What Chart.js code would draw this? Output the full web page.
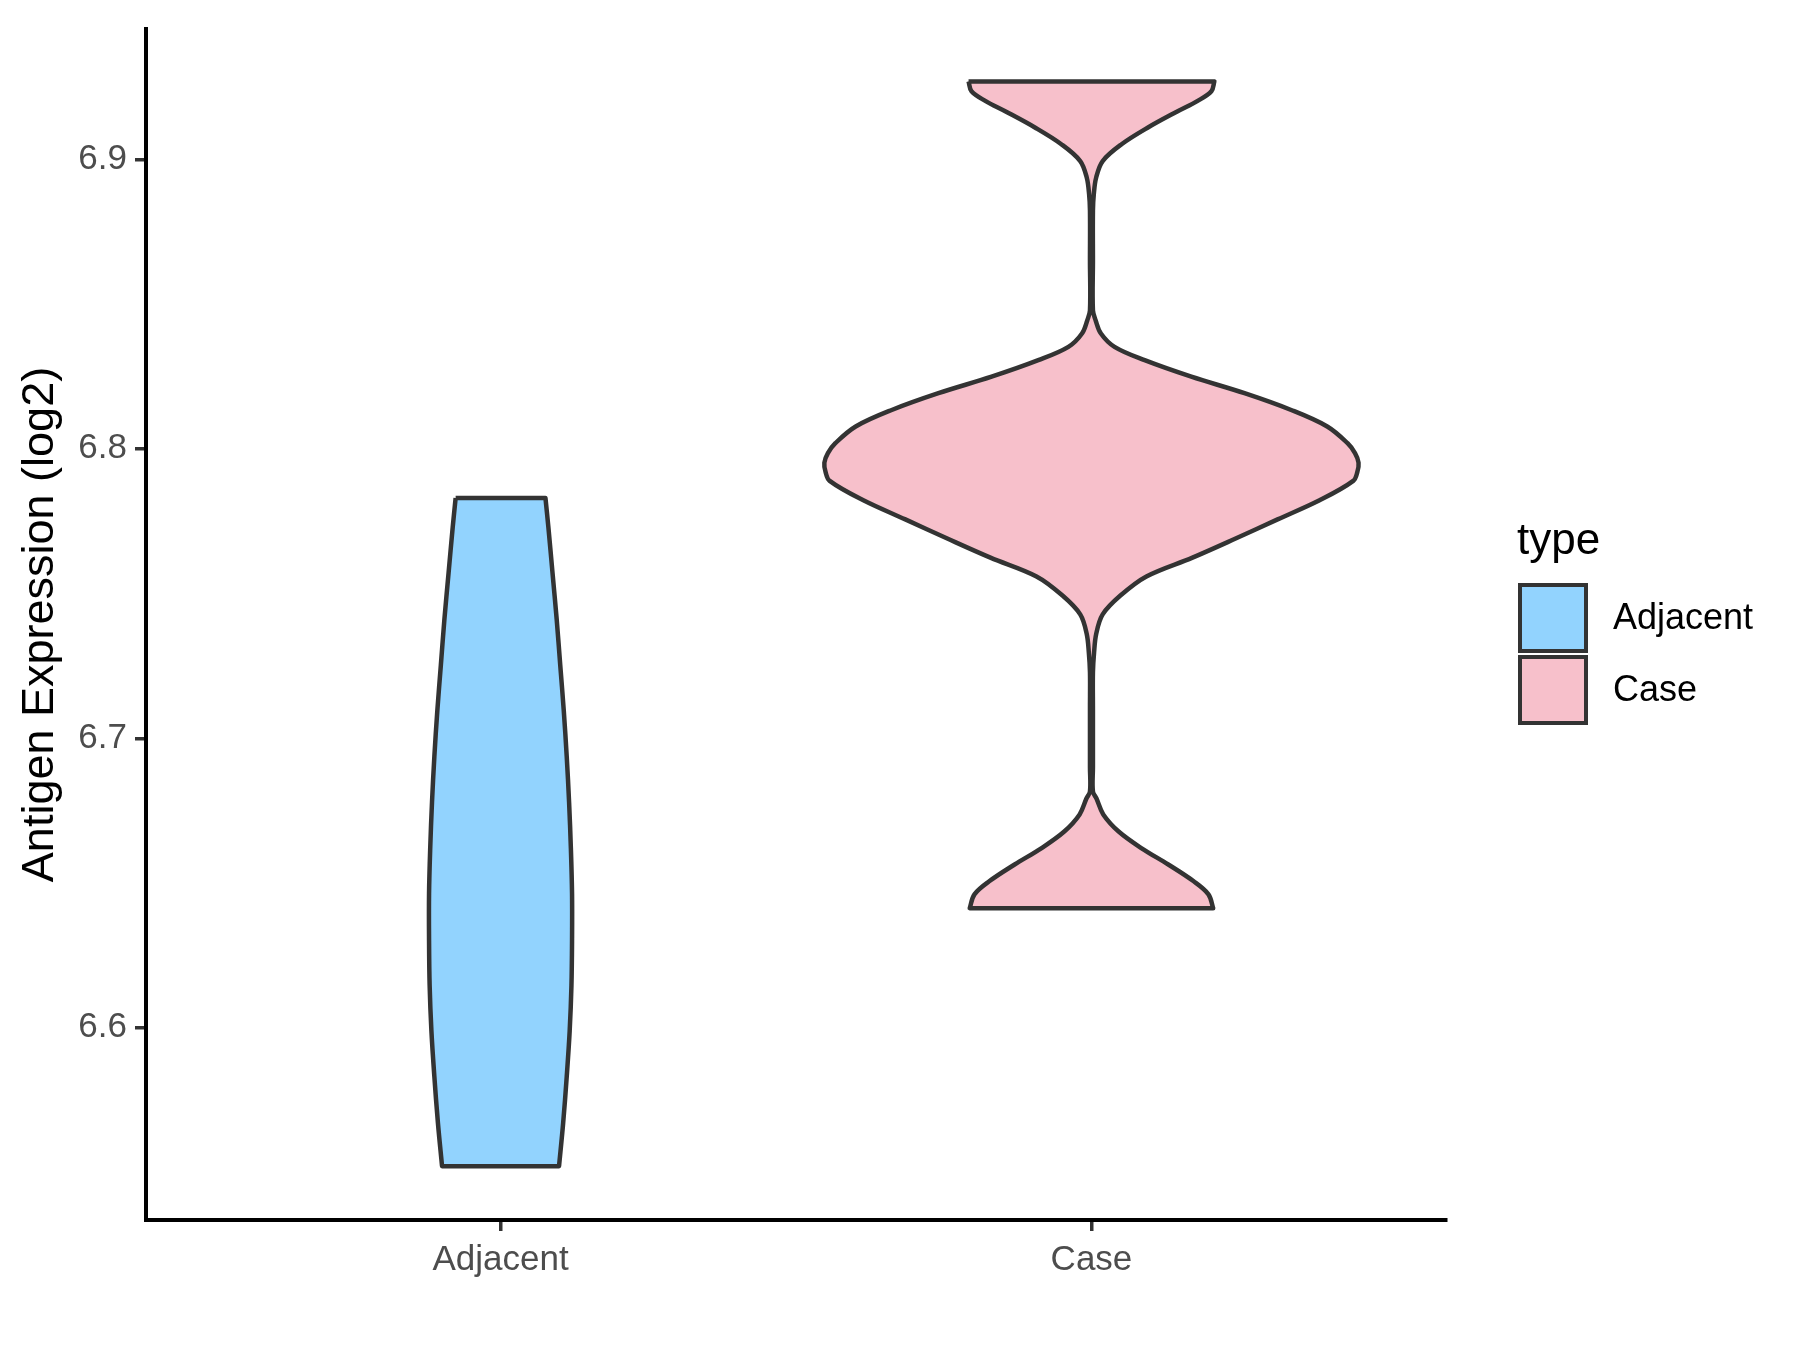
<!DOCTYPE html>
<html>
<head>
<meta charset="utf-8">
<title>Antigen Expression</title>
<script src="https://cdn.jsdelivr.net/npm/chart.js@4.4.1/dist/chart.umd.min.js"></script>
<style>
  body{margin:0;background:#fff;}
  #wrap{width:1800px;height:1350px;}
</style>
</head>
<body>
<div id="wrap"><canvas id="violinChart" width="1800" height="1350"></canvas></div>
<script>
// categories and axis ticks
const categories=["Adjacent","Case"];
const yTicks=[6.6,6.7,6.8,6.9];

// violin outlines: value (log2) and half width (in category units)
const adjacentY=[6.7830,6.7728,6.7570,6.7411,6.7253,6.7095,6.6937,6.6779,6.6621,6.6463,6.6305,6.6147,6.5989,6.5831,6.5672,6.5522];
const adjacentHalf=[0.076,0.081,0.088,0.095,0.101,0.107,0.112,0.116,0.119,0.121,0.121,0.120,0.117,0.112,0.106,0.099];

const caseY=[6.9269,6.9235,6.9201,6.9166,6.9109,6.9052,6.8994,6.8937,6.8880,6.8822,6.8650,6.8478,6.8444,6.8398,6.8352,6.8306,6.8249,6.8192,6.8134,6.8077,6.8020,6.7985,6.7952,6.7920,6.7889,6.7822,6.7756,6.7690,6.7624,6.7559,6.7493,6.7428,6.7360,6.7295,6.7228,6.7100,6.6988,6.6900,6.6816,6.6792,6.6737,6.6678,6.6620,6.6564,6.6506,6.6461,6.6413];
const caseHalf=[0.208,0.203,0.179,0.146,0.095,0.051,0.019,0.008,0.004,0.0025,0.0025,0.0025,0.007,0.016,0.039,0.090,0.169,0.259,0.338,0.399,0.433,0.446,0.452,0.450,0.443,0.386,0.315,0.244,0.171,0.093,0.049,0.019,0.008,0.0044,0.0025,0.0025,0.0025,0.0025,0.0025,0.0085,0.020,0.046,0.085,0.130,0.173,0.198,0.206];

const fillColors=["#92D3FE","#F7C0CB"];
const strokeColor="#333333";

// closed outline: down the left side, back up the right side.
// the end points of each side are repeated so the flat top/bottom keep sharp corners
function outline(center,ys,halfs){
  let left=[],right=[];
  for(let i=0;i<ys.length;i++) left.push({x:center-halfs[i],y:ys[i]});
  for(let i=ys.length-1;i>=0;i--) right.push({x:center+halfs[i],y:ys[i]});
  const sharp=side=>[side[0],...side,side[side.length-1]];
  let pts=[...sharp(left),...sharp(right)];
  pts.push(left[0]);
  return pts;
}

const violins=[
  outline(1,adjacentY,adjacentHalf),
  outline(2,caseY,caseHalf)
];

// legend drawn to look like the ggplot one
const legendPlugin={
  id:"typeLegend",
  afterDraw(chart){
    const ctx=chart.ctx;
    ctx.save();
    ctx.fillStyle="#000";
    ctx.textBaseline="middle";
    ctx.textAlign="left";
    ctx.font="44px 'Liberation Sans', Arial, sans-serif";
    ctx.fillText("type",1517,542);
    ctx.font="36px 'Liberation Sans', Arial, sans-serif";
    categories.forEach((c,i)=>{
      let y=585+i*72;
      ctx.fillStyle=fillColors[i];
      ctx.fillRect(1520,y,66,66);
      ctx.lineWidth=4;
      ctx.strokeStyle=strokeColor;
      ctx.strokeRect(1520,y,66,66);
      ctx.fillStyle="#000";
      ctx.fillText(c,1613,y+34);
    });
    ctx.restore();
  }
};

const font="'Liberation Sans', Arial, sans-serif";
Chart.defaults.font.family=font;

const ctx=document.getElementById("violinChart").getContext("2d");
new Chart(ctx,{
  type:"line",
  data:{
    datasets:violins.map((pts,i)=>({
      label:categories[i],
      data:pts,
      backgroundColor:fillColors[i],
      borderColor:strokeColor,
      borderWidth:4.5,
      fill:"shape",
      pointRadius:0,
      tension:0.35,
      borderJoinStyle:"round"
    }))
  },
  options:{
    responsive:false,
    animation:false,
    devicePixelRatio:1,
    layout:{padding:{top:20,right:354,left:0,bottom:0}},
    plugins:{legend:{display:false},tooltip:{enabled:false}},
    events:[],
    scales:{
      x:{
        type:"linear",
        min:0.4,max:2.6,
        afterBuildTicks:axis=>{axis.ticks=categories.map((c,i)=>({value:i+1}));},
        afterFit:axis=>{axis.height=130;},
        ticks:{
          color:"#4D4D4D",
          font:{size:35},
          padding:8,
          maxRotation:0,
          callback:v=>categories[v-1]
        },
        grid:{drawOnChartArea:false,drawTicks:true,tickLength:11,color:strokeColor,lineWidth:3.5},
        border:{display:true,color:"#000",width:4}
      },
      y:{
        type:"linear",
        min:6.5336,max:6.945,
        afterBuildTicks:axis=>{axis.ticks=yTicks.map(v=>({value:v}));},
        afterFit:axis=>{axis.width=146;},
        ticks:{
          color:"#4D4D4D",
          font:{size:35},
          padding:8,
          callback:v=>v.toFixed(1)
        },
        title:{
          display:true,
          text:"Antigen Expression (log2)",
          color:"#000",
          font:{size:45},
          padding:{top:14,bottom:0}
        },
        grid:{drawOnChartArea:false,drawTicks:true,tickLength:11,color:strokeColor,lineWidth:3.5},
        border:{display:true,color:"#000",width:4}
      }
    }
  },
  plugins:[legendPlugin]
});
</script>
</body>
</html>
